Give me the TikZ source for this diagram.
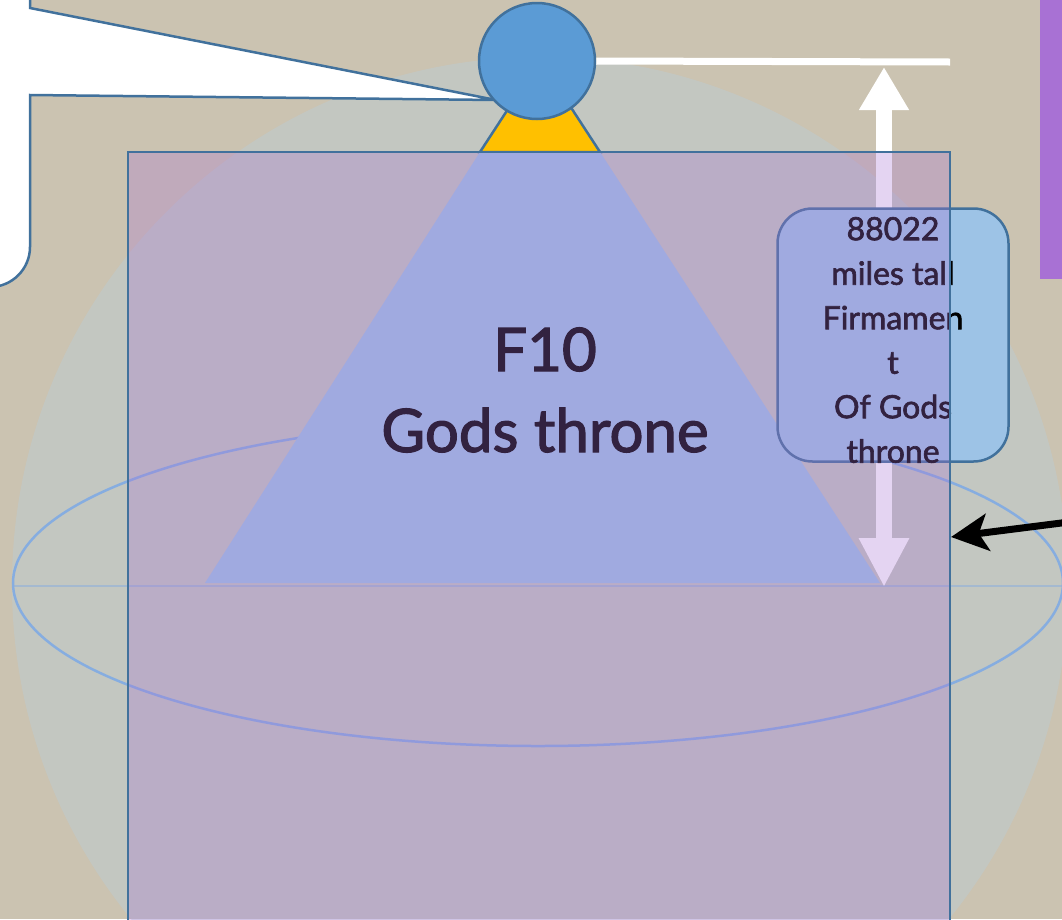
\documentclass[tikz,border=0pt]{standalone}
\usepackage{fontspec}
\setmainfont{Lato}[FakeBold=2]
\usetikzlibrary{arrows.meta}
\definecolor{bgbeige}{HTML}{CBC3B1}
\definecolor{circtint}{HTML}{BBCCD6}
\definecolor{edge}{HTML}{41719C}
\definecolor{headblue}{HTML}{5B9BD5}
\definecolor{yellowtri}{HTML}{FFC000}
\definecolor{lightblue}{HTML}{9DC3E6}
\definecolor{rectpurple}{HTML}{A871D4}
\definecolor{ellline}{HTML}{86ADE0}
\tikzset{
  outline/.style={draw=edge, line width=2.5pt},
  notebox/.style={outline, fill=lightblue, rounded corners=35pt, minimum width=231pt, minimum height=253pt, inner sep=0pt},
  notetxt/.style={align=center, font=\fontsize{32}{44.5}\selectfont, text=black},
  titletxt/.style={align=center, font=\fontsize{60}{81}\selectfont, text=black},
}
\begin{document}
\begin{tikzpicture}[x=1pt,y=-1pt]
\useasboundingbox (0,0) rectangle (1062,919);
\clip (0,0) rectangle (1062,919);
% background
\fill[bgbeige] (0,0) rectangle (1062,919);
\fill[circtint, opacity=0.45] (540,585) circle[radius=528pt];
% ring ellipse
\draw[ellline, line width=2.5pt] (538,583) ellipse[x radius=525pt, y radius=163pt];
\draw[ellline, opacity=0.5, line width=1.5pt] (13,586) -- (1062,586);
% callout
\filldraw[fill=white, outline] (30,-20) -- (30,8) -- (496,100) -- (30,95) -- (30,247)
  .. controls (30,269) and (12,287) .. (-10,287) -- (-20,287) -- (-20,-20) -- cycle;
% throne triangle
\filldraw[fill=yellowtri, outline] (540,60) -- (600,152) -- (480,152) -- cycle;
\fill[lightblue] (480,152) -- (600,152) -- (880,583) -- (205,583) -- cycle;
% white dimension arrow
\coordinate (dimtop) at (884,67);
\coordinate (dimbot) at (884,587);
\draw[white, line width=16pt, {Triangle[length=43pt,width=47pt]}-{Triangle[length=49pt,width=47pt]}] (dimtop) -- (dimbot);
% note box
\node[notebox] (note) at (893,335) {};
\node[notetxt] (notetext) at (893,340) {88022\\miles tall\\Firmamen\\t\\Of Gods\\throne};
% title
\node[titletxt] (title) at (545,390) {F10\\Gods throne};
% translucent column
\filldraw[fill=rectpurple, fill opacity=0.3, outline] (128,152) rectangle (950,940);
% head
\node[circle, fill=headblue, outline, minimum size=116pt, inner sep=0pt] (head) at (537,61) {};
\coordinate (lineend) at (950,62);
\draw[white, line width=7pt] (head.east) -- (lineend);
% black pointer arrow
\coordinate (ptail) at (1085,520);
\coordinate (ptip) at (951,537);
\draw[black, line width=7pt, -{Stealth[length=37pt,width=37pt,inset=9pt]}] (ptail) -- (ptip);
% purple panel
\fill[rectpurple] (1040,-10) rectangle (1075,279);
\end{tikzpicture}
\end{document}
